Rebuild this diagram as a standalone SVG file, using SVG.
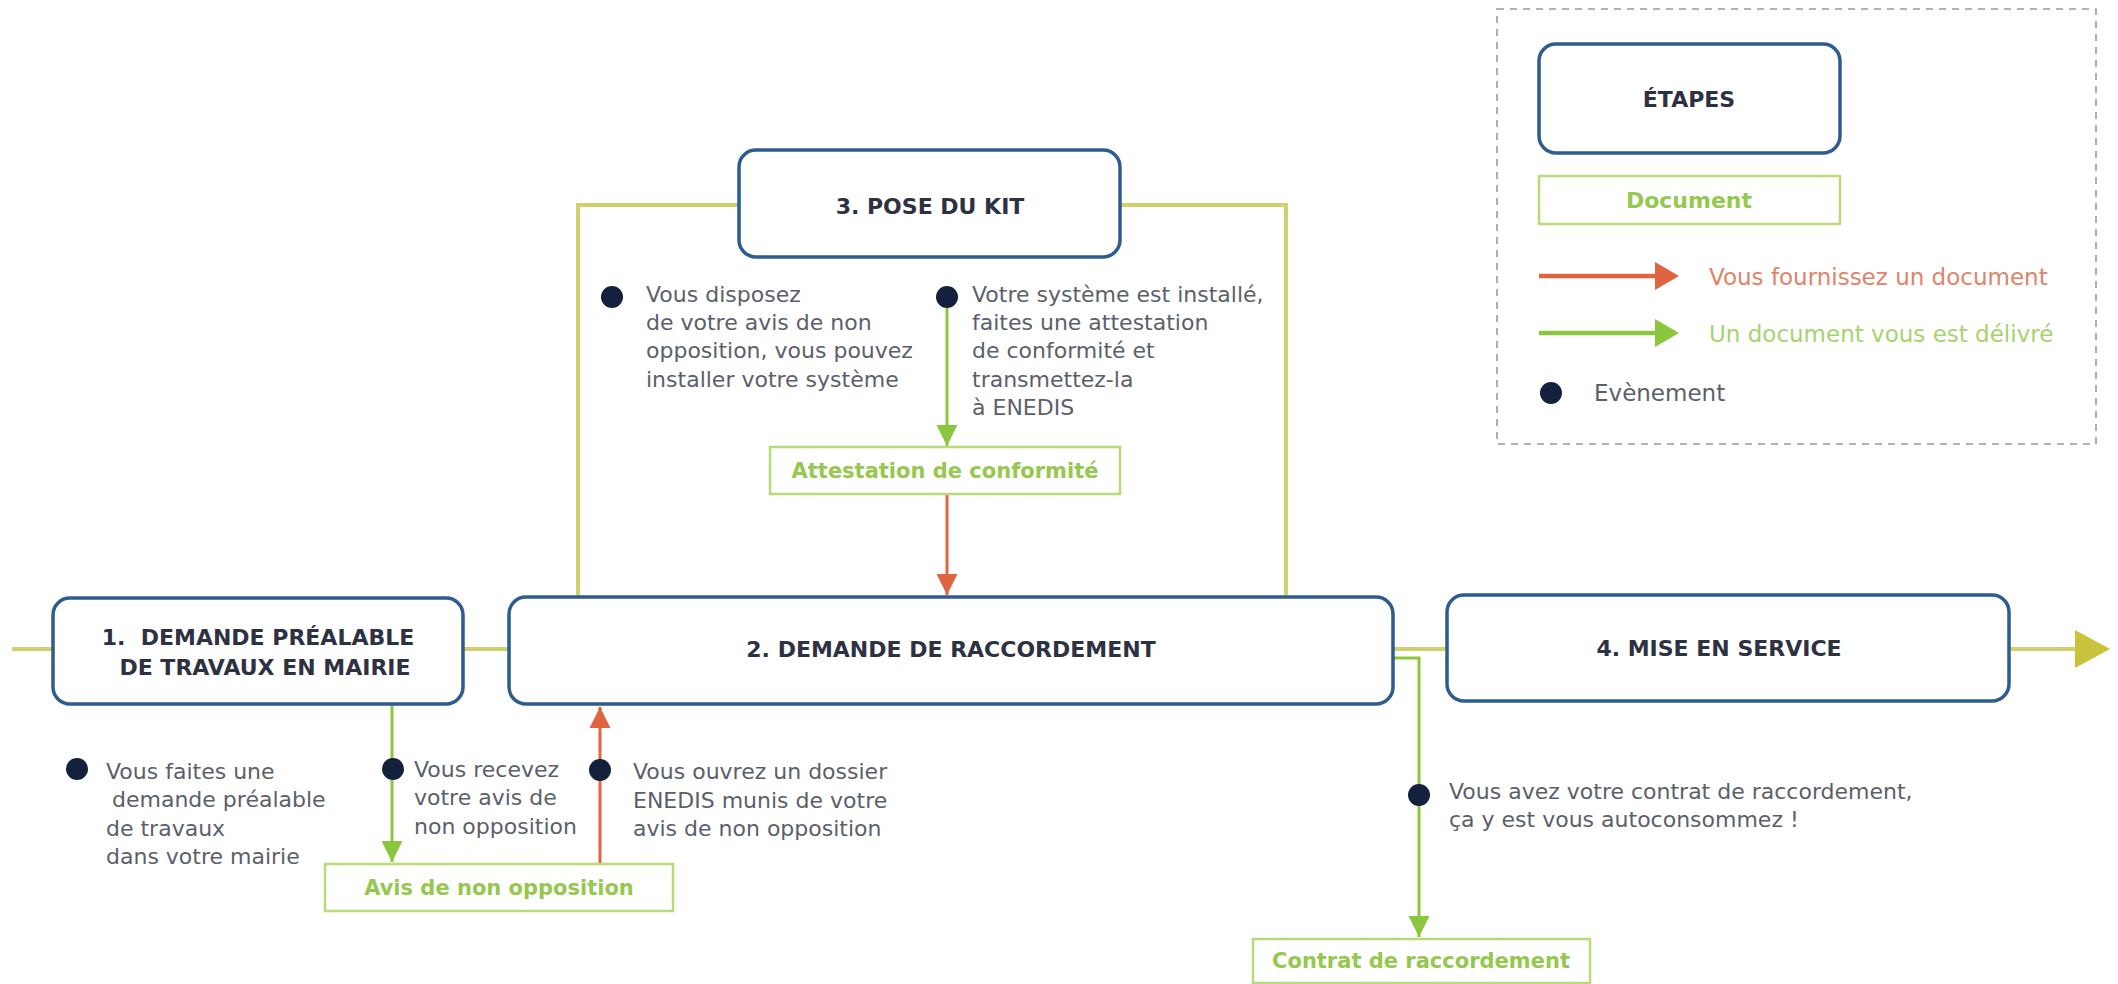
<svg xmlns="http://www.w3.org/2000/svg" width="2118" height="984" viewBox="0 0 2118 984">
<defs>
<style>
.step{fill:#ffffff;stroke:#2e5c8e;stroke-width:3.5}
.doc{fill:#ffffff;stroke:#b8db78;stroke-width:2.5}
.title{font-family:"DejaVu Sans",sans-serif;font-weight:bold;font-size:22px;fill:#2d3142;text-anchor:middle}
.doct{font-family:"DejaVu Sans",sans-serif;font-weight:bold;font-size:21px;fill:#96c74f;text-anchor:middle}
.body{font-family:"DejaVu Sans",sans-serif;font-size:22px;fill:#5b5f6a}
.leg{font-family:"DejaVu Sans",sans-serif;font-size:23px}
.dot{fill:#14213d}
.olive{fill:none;stroke:#d0d16c;stroke-width:4}
.green{fill:none;stroke:#8cc63f;stroke-width:3}
.red{fill:none;stroke:#e0643f;stroke-width:3}
</style>
<marker id="ag" viewBox="0 0 10 10" refX="10" refY="5" markerWidth="7" markerHeight="7" markerUnits="strokeWidth" orient="auto">
<path d="M0,0 L10,5 L0,10 Z" fill="#8cc63f"/>
</marker>
<marker id="ar" viewBox="0 0 10 10" refX="10" refY="5" markerWidth="7" markerHeight="7" markerUnits="strokeWidth" orient="auto">
<path d="M0,0 L10,5 L0,10 Z" fill="#e0643f"/>
</marker>
</defs>
<rect width="2118" height="984" fill="#ffffff"/>

<g id="connectors">
<path class="olive" d="M12 649 H53 M463 649 H509 M1393 649 H1446 M2009 649 H2078"/>
<polygon points="2075,630 2110,649 2075,668" fill="#c9c33b"/>
<path class="olive" d="M578 595 V205 H739 M1120 205 H1286 V595"/>
<path class="green" d="M392 705 V862" marker-end="url(#ag)"/>
<path class="red" d="M600 863 V707" marker-end="url(#ar)"/>
<path class="green" d="M947 297 V446" marker-end="url(#ag)"/>
<path class="red" d="M947 495 V595" marker-end="url(#ar)"/>
<path class="green" d="M1393 658 H1419 V937" marker-end="url(#ag)"/>
</g>

<g id="legend">
<rect x="1497" y="9" width="599" height="435" fill="none" stroke="#9a9a9a" stroke-width="1.6" stroke-dasharray="7,6"/>
<g id="legend-step">
<rect class="step" x="1539" y="44" width="301" height="109" rx="17"/>
<text class="title" x="1689" y="107">ÉTAPES</text>
</g>
<g id="legend-doc">
<rect class="doc" x="1539" y="176" width="301" height="48"/>
<text class="doct" x="1689" y="208" style="font-size:22px">Document</text>
</g>
<path d="M1539 276 H1660" stroke="#e0643f" stroke-width="4.5" fill="none"/>
<polygon points="1655,262 1679,276 1655,290" fill="#e0643f"/>
<text class="leg" x="1709" y="285" style="fill:#e0836a">Vous fournissez un document</text>
<path d="M1539 333 H1660" stroke="#8cc63f" stroke-width="4.5" fill="none"/>
<polygon points="1655,319 1679,333 1655,347" fill="#8cc63f"/>
<text class="leg" x="1709" y="342" style="fill:#a6d36e">Un document vous est délivré</text>
<circle class="dot" cx="1551" cy="393" r="11"/>
<text class="leg" x="1594" y="401" style="fill:#5b5f6a">Evènement</text>
</g>

<g id="node1">
<rect class="step" x="53" y="598" width="410" height="106" rx="17"/>
<text class="title" x="258" y="645" xml:space="preserve">1.  DEMANDE PRÉALABLE</text>
<text class="title" x="265" y="675">DE TRAVAUX EN MAIRIE</text>
</g>
<g id="node2">
<rect class="step" x="509" y="597" width="884" height="107" rx="17"/>
<text class="title" x="951" y="657">2. DEMANDE DE RACCORDEMENT</text>
</g>
<g id="node3">
<rect class="step" x="739" y="150" width="381" height="107" rx="17"/>
<text class="title" x="930" y="214">3. POSE DU KIT</text>
</g>
<g id="node4">
<rect class="step" x="1447" y="595" width="562" height="106" rx="17"/>
<text class="title" x="1719" y="656">4. MISE EN SERVICE</text>
</g>

<g id="doc-avis">
<rect class="doc" x="325" y="864" width="348" height="47"/>
<text class="doct" x="499" y="895">Avis de non opposition</text>
</g>
<g id="doc-attestation">
<rect class="doc" x="770" y="447" width="350" height="47"/>
<text class="doct" x="945" y="478">Attestation de conformité</text>
</g>
<g id="doc-contrat">
<rect class="doc" x="1253" y="939" width="337" height="44"/>
<text class="doct" x="1421" y="968">Contrat de raccordement</text>
</g>

<g id="event1">
<circle class="dot" cx="77" cy="769" r="11"/>
<text class="body" x="106" y="779">Vous faites une</text>
<text class="body" x="112" y="807">demande préalable</text>
<text class="body" x="106" y="836">de travaux</text>
<text class="body" x="106" y="864">dans votre mairie</text>
</g>
<g id="event2">
<circle class="dot" cx="393" cy="769" r="11"/>
<text class="body" x="414" y="777">Vous recevez</text>
<text class="body" x="414" y="805">votre avis de</text>
<text class="body" x="414" y="834">non opposition</text>
</g>
<g id="event3">
<circle class="dot" cx="600" cy="770" r="11"/>
<text class="body" x="633" y="779">Vous ouvrez un dossier</text>
<text class="body" x="633" y="808">ENEDIS munis de votre</text>
<text class="body" x="633" y="836">avis de non opposition</text>
</g>
<g id="event4">
<circle class="dot" cx="612" cy="297" r="11"/>
<text class="body" x="646" y="302">Vous disposez</text>
<text class="body" x="646" y="330">de votre avis de non</text>
<text class="body" x="646" y="358">opposition, vous pouvez</text>
<text class="body" x="646" y="387">installer votre système</text>
</g>
<g id="event5">
<circle class="dot" cx="947" cy="297" r="11"/>
<text class="body" x="972" y="302">Votre système est installé,</text>
<text class="body" x="972" y="330">faites une attestation</text>
<text class="body" x="972" y="358">de conformité et</text>
<text class="body" x="972" y="387">transmettez-la</text>
<text class="body" x="972" y="415">à ENEDIS</text>
</g>
<g id="event6">
<circle class="dot" cx="1419" cy="795" r="11"/>
<text class="body" x="1449" y="799">Vous avez votre contrat de raccordement,</text>
<text class="body" x="1449" y="827">ça y est vous autoconsommez !</text>
</g>
</svg>
